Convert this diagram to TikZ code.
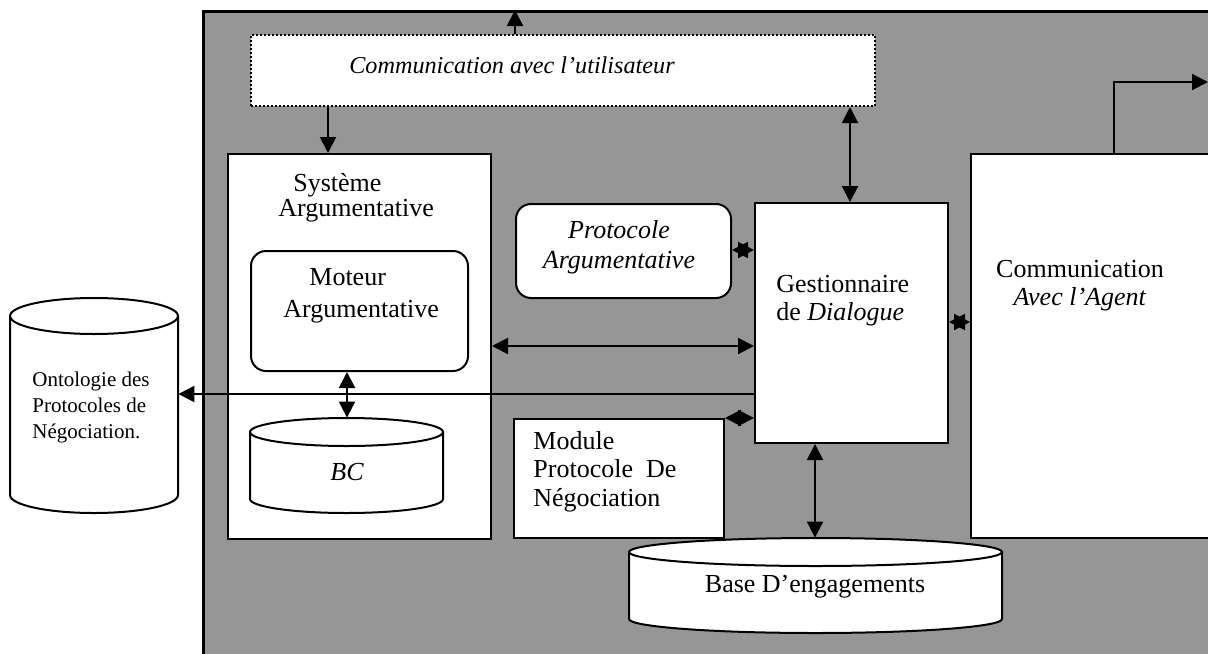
\documentclass[tikz,border=0pt]{standalone}
\usepackage{fontspec}
\setmainfont{Liberation Serif}
\usetikzlibrary{arrows.meta}
\definecolor{panelgray}{RGB}{150,150,150}
\begin{document}
\begin{tikzpicture}[x=0.5pt,y=-0.5pt,
  box/.style={draw, line width=1pt, fill=white, inner sep=0pt, anchor=north west},
  rbox/.style={box, rounded corners=7.5pt},
  cyl/.style={draw, line width=1pt, fill=white},
  slot/.style={inner sep=0pt},
  arr/.style={line width=1pt, -{Triangle[length=8pt,width=8pt]}},
  darr/.style={line width=1pt, {Triangle[length=8pt,width=8pt]}-{Triangle[length=8pt,width=8pt]}},
  txt/.style={inner sep=0pt, font=\fontsize{13}{#1}\selectfont},
  txt/.default=15,
]
\useasboundingbox (0,0) rectangle (1208,653);

% grey agent panel (runs off the right and bottom edges)
\node[draw, line width=1.5pt, fill=panelgray, inner sep=0pt, anchor=north west,
      minimum width=550pt, minimum height=350pt] (panel) at (202,10) {};

% user communication band
\node[draw, densely dotted, line width=1pt, fill=white, inner sep=0pt, anchor=north west,
      minimum width=312pt, minimum height=35.5pt] (user) at (250,34) {};
\node[txt, font=\fontsize{12.1}{15}\selectfont\itshape] (usertxt) at (512,65) {Communication avec l’utilisateur};

% argumentation system
\node[box, minimum width=131.5pt, minimum height=192.5pt] (sys) at (227,153) {};
\node[txt=12.5, anchor=west, align=left] (systxt) at (278,198) {\hspace*{7.5pt}Système\\Argumentative};
\node[rbox, minimum width=108.5pt, minimum height=60pt] (mot) at (250,250) {};
\node[txt=16, anchor=west, align=left] (mottxt) at (283,296) {\hspace*{13pt}Moteur\\Argumentative};

% knowledge base BC
\filldraw[cyl] (250,432) -- (250,499) arc[start angle=180,end angle=360,x radius=48.25pt,y radius=7pt]
  -- (443,432) arc[start angle=0,end angle=180,x radius=48.25pt,y radius=7pt] -- cycle;
\draw[line width=1pt] (250,432) arc[start angle=180,end angle=360,x radius=48.25pt,y radius=7pt];
\node[slot, minimum width=96.5pt, minimum height=47.5pt] (bc) at (346.5,465.5) {};
\node[txt, font=\fontsize{13}{15}\selectfont\itshape] (bctxt) at (347,472) {BC};

% argumentation protocol
\node[rbox, minimum width=107.5pt, minimum height=47pt] (proto) at (515,203) {};
\node[txt, align=center, font=\fontsize{13}{15}\selectfont\itshape] (prototxt) at (619,247) {Protocole\\Argumentative};

% dialogue manager
\node[box, minimum width=96.5pt, minimum height=120pt] (gest) at (754,202) {};
\node[txt=14, anchor=west, align=left] (gesttxt) at (776,301) {Gestionnaire\\de \textit{Dialogue}};

% negotiation protocol module
\node[box, minimum width=105pt, minimum height=59.5pt] (mod) at (513,418) {};
\node[txt=14.25, anchor=west, align=left] (modtxt) at (533,471.5) {Module\\Protocole\ \ De\\Négociation};

% agent communication
\node[box, minimum width=130pt, minimum height=192pt] (agent) at (970,153) {};
\node[txt=14, align=center] (agenttxt) at (1080,286) {Communication\\\textit{Avec l’Agent}};

% commitment base
\filldraw[cyl] (629,552) -- (629,619) arc[start angle=180,end angle=360,x radius=93.25pt,y radius=7pt]
  -- (1002,552) arc[start angle=0,end angle=180,x radius=93.25pt,y radius=7pt] -- cycle;
\draw[line width=1pt] (629,552) arc[start angle=180,end angle=360,x radius=93.25pt,y radius=7pt];
\node[slot, minimum width=186.5pt, minimum height=47.5pt] (base) at (815.5,585.5) {};
\node[txt] (basetxt) at (815,587) {Base D’engagements};

% ontology of negotiation protocols
\filldraw[cyl] (10,316) -- (10,495) arc[start angle=180,end angle=360,x radius=42pt,y radius=9pt]
  -- (178,316) arc[start angle=0,end angle=180,x radius=42pt,y radius=9pt] -- cycle;
\draw[line width=1pt] (10,316) arc[start angle=180,end angle=360,x radius=42pt,y radius=9pt];
\node[slot, minimum width=84pt, minimum height=107.5pt] (onto) at (94,405.5) {};
\node[inner sep=0pt, anchor=west, align=left, font=\fontsize{10.5}{13}\selectfont] (ontotxt) at (32,407)
  {Ontologie des\\Protocoles de\\Négociation.};

% connector guide positions
\coordinate (cup) at (515,0);
\coordinate (csys) at (328,0);
\coordinate (cgest) at (850,0);
\coordinate (cbc) at (347,0);
\coordinate (cbase) at (815,0);
\coordinate (cturn) at (1114,0);
\coordinate (rsys) at (0,346);
\coordinate (ronto) at (0,394);
\coordinate (rproto) at (0,250);
\coordinate (ragent) at (0,322);
\coordinate (out) at (1208,82);

% connectors
\draw[arr] (user.north -| cup) -- (panel.north -| cup);
\draw[arr] (user.south -| csys) -- (sys.north -| csys);
\draw[darr] (user.south -| cgest) -- (gest.north -| cgest);
\draw[darr] (mot.south -| cbc) -- (bc.north -| cbc);
\draw[darr] (sys.east |- rsys) -- (gest.west |- rsys);
\draw[arr] (gest.west |- ronto) -- (onto.east |- ronto);
\draw[darr] (proto.east |- rproto) -- (gest.west |- rproto);
\draw[darr] (mod.north east) -- (gest.west |- mod.north east);
\draw[darr] (gest.east |- ragent) -- (agent.west |- ragent);
\draw[darr] (gest.south -| cbase) -- (base.north -| cbase);
\draw[arr] (agent.north -| cturn) |- (out);
\end{tikzpicture}
\end{document}
